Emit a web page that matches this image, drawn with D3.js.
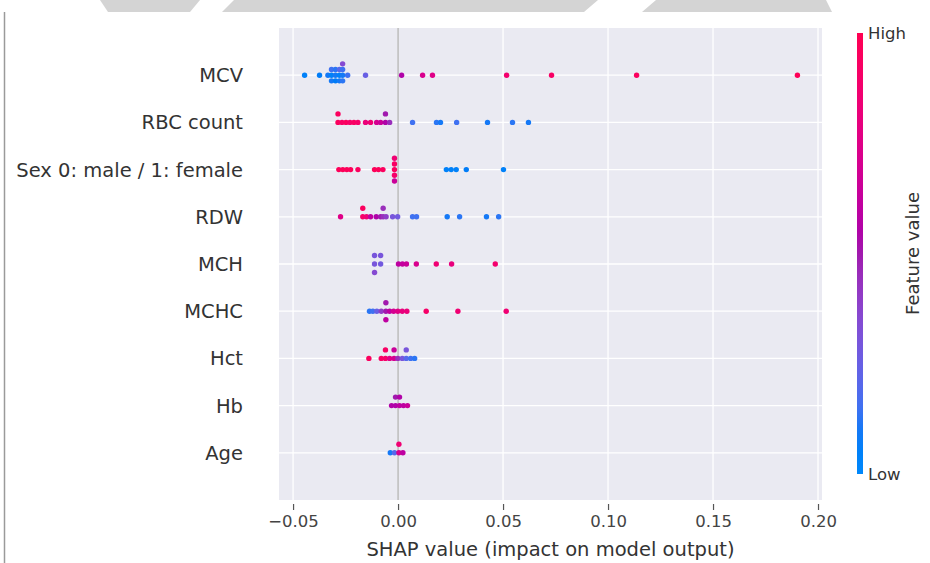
<!DOCTYPE html>
<html>
<head>
<meta charset="utf-8">
<script src="https://cdn.jsdelivr.net/npm/d3@7/dist/d3.min.js"></script>
<style>
  body { margin: 0; background: #fff; }
  svg { display: block; font-family: "DejaVu Sans", sans-serif; }
</style>
</head>
<body>
<div id="chart"></div>
<script>
// Features, most important first
var features = ["MCV", "RBC count", "Sex 0: male / 1: female", "RDW", "MCH", "MCHC", "Hct", "Hb", "Age"];

// SHAP values per feature (repeated values stack vertically)
var mcvShap = [-0.0445, -0.0374, -0.0334, -0.0317, -0.0317, -0.0317, -0.0298, -0.0298, -0.0298,
  -0.0279, -0.0279, -0.0279, -0.0264, -0.0264, -0.0264, -0.0264, -0.0240, -0.0155,
  0.0017, 0.0117, 0.0164, 0.0517, 0.0731, 0.1136, 0.1902];
var mcvValue = [0.05, 0.08, 0.1, 0.05, 0.15, 0.1, 0.1, 0.12, 0.08,
  0.05, 0.2, 0.1, 0.1, 0.15, 0.12, 0.35, 0.15, 0.25,
  0.55, 0.72, 0.75, 0.88, 0.92, 0.95, 0.98];

var rbcShap = [-0.0286, -0.0286, -0.0267, -0.0248, -0.0229, -0.0210, -0.0191, -0.0155, -0.0131,
  -0.0102, -0.0083, -0.0060, -0.0060, -0.0040, 0.0069, 0.0183, 0.0202, 0.0279, 0.0426, 0.0545, 0.0621];
var rbcValue = [0.95, 0.95, 0.92, 0.95, 0.9, 0.93, 0.9, 0.82, 0.85,
  0.7, 0.65, 0.55, 0.5, 0.45, 0.15, 0.12, 0.1, 0.15, 0.1, 0.12, 0.1];

var sexShap = [-0.0282, -0.0263, -0.0244, -0.0226, -0.0191, -0.0112, -0.0093, -0.0072,
  -0.0017, -0.0017, -0.0017, -0.0017, -0.0017, 0.0230, 0.0253, 0.0277, 0.0325, 0.0502];
var sexValue = [0.97, 0.97, 0.97, 0.97, 0.95, 0.97, 0.97, 0.95,
  0.95, 0.93, 0.9, 0.85, 0.65, 0.05, 0.05, 0.05, 0.08, 0.05];

var rdwShap = [-0.0274, -0.0168, -0.0168, -0.0150, -0.0131, -0.0104, -0.0083, -0.0071, -0.0071,
  -0.0057, -0.0026, -0.0002, 0.0069, 0.0088, 0.0234, 0.0293, 0.0421, 0.0479];
var rdwValue = [0.75, 0.9, 0.95, 0.85, 0.6, 0.55, 0.5, 0.45, 0.45,
  0.4, 0.3, 0.28, 0.15, 0.15, 0.1, 0.12, 0.1, 0.12];

var mchShap = [-0.0112, -0.0112, -0.0112, -0.0083, -0.0083, 0.0002, 0.0021, 0.0040,
  0.0087, 0.0182, 0.0255, 0.0463];
var mchValue = [0.3, 0.3, 0.35, 0.28, 0.3, 0.6, 0.62, 0.65,
  0.72, 0.85, 0.8, 0.88];

var mchcShap = [-0.0136, -0.0120, -0.0101, -0.0080, -0.0058, -0.0058, -0.0058, -0.0040, -0.0021,
  -0.0001, 0.0020, 0.0042, 0.0134, 0.0285, 0.0515];
var mchcValue = [0.12, 0.15, 0.25, 0.4, 0.5, 0.5, 0.6, 0.6, 0.7,
  0.75, 0.8, 0.82, 0.9, 0.85, 0.85];

var hctShap = [-0.0139, -0.0080, -0.0060, -0.0060, -0.0040, -0.0019, -0.0019, -0.0001,
  0.0020, 0.0039, 0.0039, 0.0060, 0.0079];
var hctValue = [0.95, 0.92, 0.9, 0.92, 0.75, 0.7, 0.65, 0.45,
  0.3, 0.2, 0.3, 0.15, 0.12];

var hbShap = [-0.0031, -0.0012, -0.0012, 0.0007, 0.0007, 0.0026, 0.0045];
var hbValue = [0.55, 0.55, 0.5, 0.6, 0.55, 0.6, 0.65];

var ageShap = [-0.0037, -0.0017, 0.0004, 0.0004, 0.0023];
var ageValue = [0.1, 0.2, 0.7, 0.85, 0.6];

var xTicks = [-0.05, 0, 0.05, 0.10, 0.15, 0.20];
var xDomain = [-0.0567, 0.2019];

var rows = [
  [mcvShap, mcvValue], [rbcShap, rbcValue], [sexShap, sexValue], [rdwShap, rdwValue],
  [mchShap, mchValue], [mchcShap, mchcValue], [hctShap, hctValue], [hbShap, hbValue], [ageShap, ageValue]
];

// Layout
var width = 930, height = 563;
var plot = { left: 279, right: 822, top: 28, bottom: 500 };
var n = features.length;

var svg = d3.select("#chart").append("svg")
  .attr("width", width)
  .attr("height", height);

// Scales
var xScale = d3.scaleLinear().domain(xDomain).range([plot.left, plot.right]);
var yScale = d3.scaleLinear().domain([-1, n]).range([plot.bottom, plot.top]);

// shap red_blue colormap (LCh interpolation, darker in the middle)
var colorScale = function(t) {
  var l = t < 0.5 ? 54 + (40 - 54) * (t / 0.5) : 40 + (54 - 40) * ((t - 0.5) / 0.5);
  var c = 70 + 20 * t;
  var h = 267 + 113.3 * t;
  return d3.hcl(h, c, l).formatHex();
};

// Page decorations (scan edges)
svg.append("line")
  .attr("x1", 4.5).attr("x2", 4.5).attr("y1", 12).attr("y2", height)
  .attr("stroke", "#9a9a9a").attr("stroke-width", 1.5);

var marks = [
  [[100, 0], [200, 0], [190, 12], [108, 12]],
  [[234, 0], [598, 0], [584, 12], [222, 12]],
  [[656, 0], [826, 0], [832, 12], [642, 12]]
];
svg.append("g").selectAll("path").data(marks).enter().append("path")
  .attr("d", d => d3.line()(d) + "Z")
  .attr("fill", "#d4d4d4");

// Plot background
svg.append("rect")
  .attr("x", plot.left).attr("y", plot.top)
  .attr("width", plot.right - plot.left).attr("height", plot.bottom - plot.top)
  .attr("fill", "#eaeaf2");

// Vertical grid
svg.append("g").selectAll("line").data(xTicks).enter().append("line")
  .attr("x1", d => xScale(d)).attr("x2", d => xScale(d))
  .attr("y1", plot.top).attr("y2", plot.bottom)
  .attr("stroke", "#fff").attr("stroke-width", 1.3);

// Horizontal grid at each row
svg.append("g").selectAll("line").data(features).enter().append("line")
  .attr("x1", plot.left).attr("x2", plot.right)
  .attr("y1", (d, i) => yScale(n - 1 - i)).attr("y2", (d, i) => yScale(n - 1 - i))
  .attr("stroke", "#fff").attr("stroke-width", 1.3);

// Zero line
svg.append("line")
  .attr("x1", xScale(0)).attr("x2", xScale(0))
  .attr("y1", plot.top).attr("y2", plot.bottom)
  .attr("stroke", "#999").attr("stroke-width", 1);

// Beeswarm stacking: repeated values pile up alternating up / down
var rowHeight = 0.4;
var points = [];
rows.forEach(function(r, i) {
  var shaps = r[0], vals = r[1];
  var seen = {};
  var layers = shaps.map(function(v) {
    var layer = seen[v] || 0;
    seen[v] = layer + 1;
    return Math.ceil(layer / 2) * ((layer % 2) * 2 - 1);
  });
  var maxY = d3.max(layers);
  var k = 0.9 * (rowHeight / (maxY + 1));
  shaps.forEach(function(v, j) {
    points.push({ shap: v, value: vals[j], pos: n - 1 - i + layers[j] * k });
  });
});

svg.append("g").attr("class", "dots")
  .selectAll("circle").data(points).enter().append("circle")
  .attr("cx", d => xScale(d.shap))
  .attr("cy", d => yScale(d.pos))
  .attr("r", 2.7)
  .attr("fill", d => colorScale(d.value));

// Feature labels
svg.append("g").selectAll("text").data(features).enter().append("text")
  .attr("x", 243)
  .attr("y", (d, i) => yScale(n - 1 - i))
  .attr("dy", "0.36em")
  .attr("text-anchor", "end")
  .attr("font-size", 19.5)
  .attr("fill", "#333")
  .text(d => d);

// X axis
var xAxis = d3.axisBottom(xScale)
  .tickValues(xTicks)
  .tickSize(6)
  .tickPadding(5)
  .tickFormat(d3.format(".2f"));

var axisG = svg.append("g")
  .attr("transform", "translate(0," + (plot.bottom + 4) + ")")
  .call(xAxis);
axisG.select(".domain").remove();
axisG.selectAll(".tick line").attr("stroke", "#555").attr("stroke-width", 1.2);
axisG.selectAll(".tick text")
  .attr("font-family", "DejaVu Sans")
  .attr("font-size", 16.5)
  .attr("fill", "#444");

svg.append("text")
  .attr("x", (plot.left + plot.right) / 2)
  .attr("y", 556)
  .attr("text-anchor", "middle")
  .attr("font-size", 19.5)
  .attr("fill", "#333")
  .text("SHAP value (impact on model output)");

// Colorbar
var cb = { x: 857, w: 6, top: 33, bottom: 474 };
var defs = svg.append("defs");
var grad = defs.append("linearGradient")
  .attr("id", "cbGrad")
  .attr("x1", 0).attr("y1", 1).attr("x2", 0).attr("y2", 0);
d3.range(0, 1.0001, 0.05).forEach(function(t) {
  grad.append("stop").attr("offset", t).attr("stop-color", colorScale(t));
});
svg.append("rect")
  .attr("x", cb.x).attr("y", cb.top)
  .attr("width", cb.w).attr("height", cb.bottom - cb.top)
  .attr("fill", "url(#cbGrad)");

svg.append("text")
  .attr("x", cb.x + cb.w + 5).attr("y", cb.top).attr("dy", "0.36em")
  .attr("font-size", 16.5).attr("fill", "#333")
  .text("High");
svg.append("text")
  .attr("x", cb.x + cb.w + 5).attr("y", cb.bottom).attr("dy", "0.36em")
  .attr("font-size", 16.5).attr("fill", "#333")
  .text("Low");
svg.append("text")
  .attr("transform", "translate(913," + ((cb.top + cb.bottom) / 2) + ") rotate(-90)")
  .attr("text-anchor", "middle")
  .attr("dy", "0.36em")
  .attr("font-size", 18)
  .attr("fill", "#333")
  .text("Feature value");
</script>
</body>
</html>
